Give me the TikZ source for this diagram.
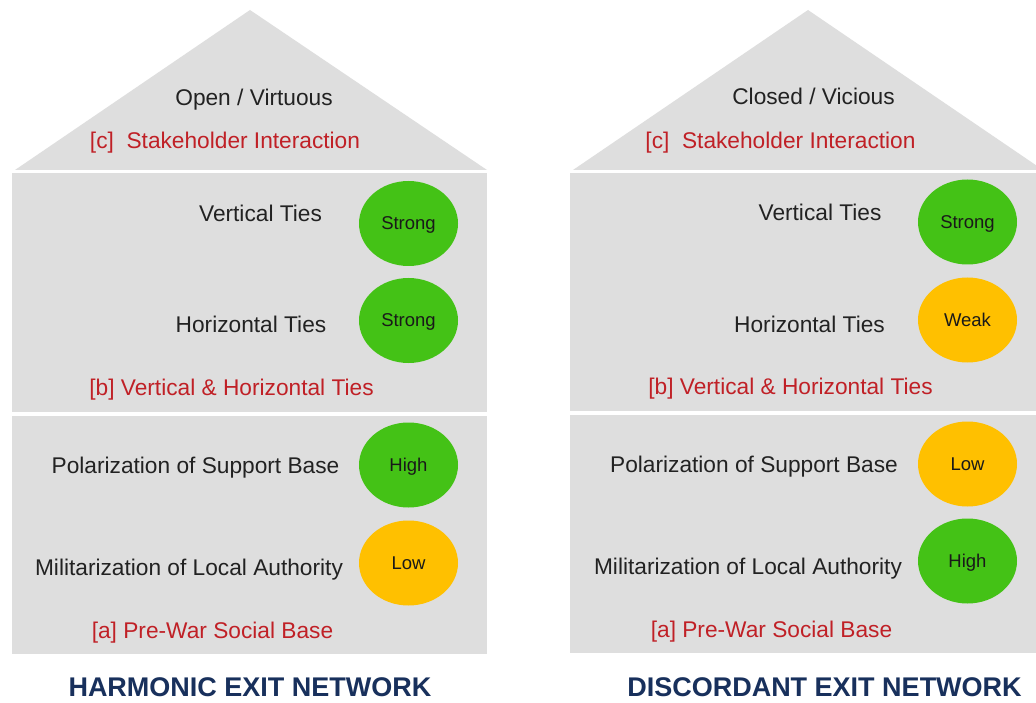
\documentclass[tikz,border=0pt]{standalone}
\usepackage{fontspec}
\setmainfont{Liberation Sans}
\usetikzlibrary{shapes.geometric}
\definecolor{houseGrey}{RGB}{222,222,222}
\definecolor{dotGreen}{RGB}{68,194,22}
\definecolor{dotGold}{RGB}{255,192,0}
\definecolor{labRed}{RGB}{192,32,38}
\definecolor{labDark}{RGB}{34,34,34}
\definecolor{titleBlue}{RGB}{24,48,92}
\tikzset{
  housepart/.style={fill=houseGrey, draw=none},
  bodytext/.style={anchor=base, inner sep=0pt, text=labDark, font=\fontsize{22.7}{26}\selectfont},
  redtext/.style={anchor=base, inner sep=0pt, text=labRed, font=\fontsize{22.7}{26}\selectfont},
  titletext/.style={anchor=base, inner sep=0pt, text=titleBlue, font=\fontsize{27}{31}\selectfont\bfseries},
  dot/.style={ellipse, draw=none, minimum width=99pt, minimum height=85pt, inner sep=0pt, text depth=0pt, text=black!90, font=\fontsize{18.5}{22}\selectfont},
  greendot/.style={dot, fill=dotGreen},
  golddot/.style={dot, fill=dotGold}
}
\begin{document}
\begin{tikzpicture}[x=1pt,y=-1pt]
\useasboundingbox (0,0) rectangle (1036,703);
\clip (0,0) rectangle (1036,703);
\fill[white] (0,0) rectangle (1036,703);
% left house
\fill[housepart] (15,170) -- (250,10) -- (487,170) -- cycle;
\fill[housepart] (12,173) rectangle (487,412);
\fill[housepart] (12,416) rectangle (487,654);
% right house
\fill[housepart] (573,170) -- (808,10) -- (1043,170) -- cycle;
\fill[housepart] (570,173) rectangle (1045,411);
\fill[housepart] (570,415) rectangle (1045,653);

% left texts
\node[bodytext] (lroof) at (254,106) {Open / Virtuous};
\node[redtext] (lc) at (225,149) {[c]~~Stakeholder Interaction};
\node[bodytext] (lvt) at (260.5,222) {Vertical Ties};
\node[bodytext] (lht) at (251,333) {Horizontal Ties};
\node[redtext] (lb) at (231.5,395) {[b] Vertical \& Horizontal Ties};
\node[bodytext] (lpol) at (195.5,473) {Polarization of Support Base};
\node[bodytext] (lmil) at (189,575) {Militarization of Local Authority};
\node[redtext] (la) at (212.5,638) {[a] Pre-War Social Base};
\node[titletext] (ltitle) at (250,696) {HARMONIC EXIT NETWORK};
\node[greendot] (lvtd) at (408.5,223.5) {Strong};
\node[greendot] (lhtd) at (408.5,320.5) {Strong};
\node[greendot] (lpold) at (408.5,465) {High};
\node[golddot] (lmild) at (408.5,563) {Low};

% right texts
\node[bodytext] (rroof) at (813.5,105) {Closed / Vicious};
\node[redtext] (rc) at (780.5,149) {[c]~~Stakeholder Interaction};
\node[bodytext] (rvt) at (820,221) {Vertical Ties};
\node[bodytext] (rht) at (809.5,332) {Horizontal Ties};
\node[redtext] (rb) at (790.5,394) {[b] Vertical \& Horizontal Ties};
\node[bodytext] (rpol) at (754,472) {Polarization of Support Base};
\node[bodytext] (rmil) at (748,574) {Militarization of Local Authority};
\node[redtext] (ra) at (771.5,637) {[a] Pre-War Social Base};
\node[titletext] (rtitle) at (824.5,696) {DISCORDANT EXIT NETWORK};
\node[greendot] (rvtd) at (967.5,222) {Strong};
\node[golddot] (rhtd) at (967.5,320) {Weak};
\node[golddot] (rpold) at (967.5,464) {Low};
\node[greendot] (rmild) at (967.5,561) {High};
\end{tikzpicture}
\end{document}
